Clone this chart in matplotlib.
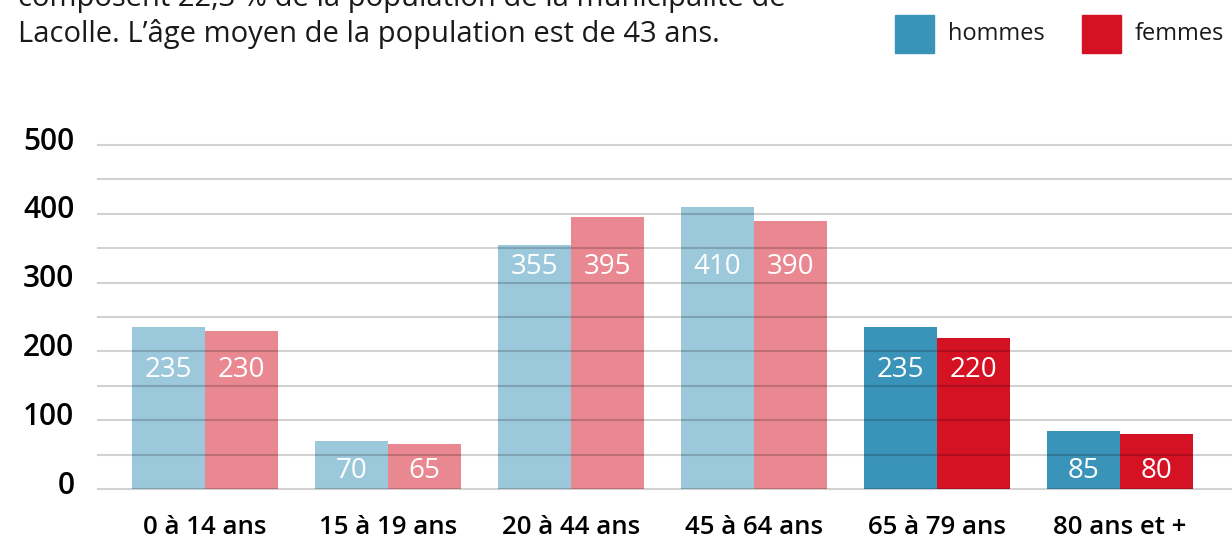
import matplotlib.pyplot as plt
import matplotlib.transforms as mtransforms
import numpy as np

# Population de Lacolle par groupe d'âge
groupes = ['0 à 14 ans', '15 à 19 ans', '20 à 44 ans', '45 à 64 ans', '65 à 79 ans', '80 ans et +']
hommes = [235, 70, 355, 410, 235, 85]
femmes = [230, 65, 395, 390, 220, 80]
yticks = [0, 100, 200, 300, 400, 500]

texte = ['composent 22,3 % de la population de la municipalité de',
         'Lacolle. L\u2019âge moyen de la population est de 43 ans.']

# mise en page (hauteur des étiquettes dans les barres)
niveaux_etiquettes = [173, 26, 323, 323, 173, 26]
accentue = [False, False, False, False, True, True]

bleu = '#3a93b8'
rouge = '#d51224'
police = 'Open Sans'

fig = plt.figure(figsize=(12.32, 5.39), dpi=100)
ax = fig.add_axes([98 / 1232, 50 / 539, 1 - 98 / 1232, 344 / 539])

x = np.arange(len(groupes))
w = 0.4
for i in range(len(groupes)):
    a = 1.0 if accentue[i] else 0.5
    ax.bar(x[i] - w / 2, hommes[i], w, color=bleu, alpha=a, zorder=1, linewidth=0)
    ax.bar(x[i] + w / 2, femmes[i], w, color=rouge, alpha=a, zorder=1, linewidth=0)
    ax.text(x[i] - w / 2, niveaux_etiquettes[i], str(hommes[i]), color='white', ha='center',
            va='center', fontsize=20, family=police, zorder=4)
    ax.text(x[i] + w / 2, niveaux_etiquettes[i], str(femmes[i]), color='white', ha='center',
            va='center', fontsize=20, family=police, zorder=4)

# lignes de grille par-dessus les barres
for v in range(0, 501, 50):
    ax.axhline(v, color='black', alpha=0.18, lw=1.5, zorder=3, clip_on=False)

ax.set_xlim(-0.585, 5.612)
ax.set_ylim(0, 500)
ax.set_yticks(yticks)
ax.set_yticklabels([str(t) for t in yticks], family=police, fontsize=21.5, fontweight='semibold')
ax.set_xticks(x)
ax.set_xticklabels(groupes, family=police, fontsize=18.5, fontweight='semibold')
ax.tick_params(length=0)
ax.tick_params(axis='y', pad=17)
ax.tick_params(axis='x', pad=19)
decale = mtransforms.ScaledTranslation(0, 7 / 100, fig.dpi_scale_trans)
for lab in ax.get_yticklabels():
    lab.set_transform(lab.get_transform() + decale)
for s in ax.spines.values():
    s.set_visible(False)

# texte d'introduction (coupé en haut)
fig.text(18 / 1232, 1 + 2 / 539, texte[0], fontsize=21, family=police, va='center', color='#1a1a1a')
fig.text(18 / 1232, 1 - 34 / 539, texte[1], fontsize=21, family=police, va='center', color='#1a1a1a')

# légende
fig.patches.append(plt.Rectangle((895 / 1232, 1 - 53 / 539), 39 / 1232, 38 / 539,
                                 transform=fig.transFigure, color=bleu))
fig.text(948 / 1232, 1 - 34 / 539, 'hommes', fontsize=17, family=police, va='center', color='#1a1a1a')
fig.patches.append(plt.Rectangle((1082 / 1232, 1 - 53 / 539), 39 / 1232, 38 / 539,
                                 transform=fig.transFigure, color=rouge))
fig.text(1135 / 1232, 1 - 34 / 539, 'femmes', fontsize=17, family=police, va='center', color='#1a1a1a')

fig.savefig('out.png', dpi=100)
